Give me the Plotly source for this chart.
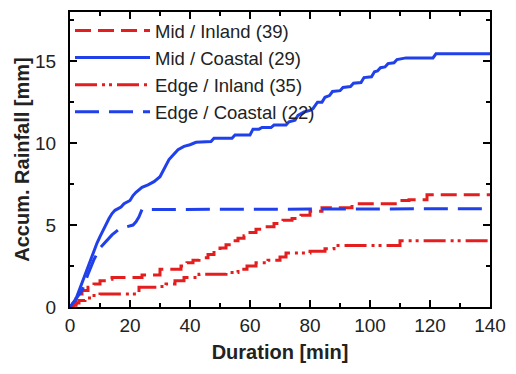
import plotly.graph_objects as go

# Accumulated rainfall curves (duration in minutes, depth in mm)
mid_inland_t = [0, 1, 2, 3, 4, 6, 8, 10, 12, 14, 16, 24, 30, 37, 39, 41, 43, 46, 48, 50, 52, 54,
                56, 58, 60, 62, 64, 68, 71, 74, 77, 80, 84, 94, 109, 113, 119, 140]
mid_inland_v = [0, 0.2, 0.5, 0.8, 1.0, 1.2, 1.4, 1.6, 1.7, 1.8, 1.8, 1.95, 2.3, 2.5, 2.7, 2.85,
                3.0, 3.2, 3.45, 3.6, 3.8, 4.05, 4.2, 4.35, 4.55, 4.75, 4.9, 5.1, 5.3, 5.4, 5.6,
                5.85, 6.05, 6.3, 6.5, 6.55, 6.85, 6.85]

mid_coastal_t = [0, 1, 2, 3, 4, 5, 6, 7, 8, 9, 10, 11, 12, 13, 14, 15, 17, 18, 20, 21, 22, 24,
                 26, 28, 30, 31, 32, 33, 34, 35, 36, 38, 40, 42, 47, 48, 54, 55, 60, 61, 63, 64,
                 67, 68, 72, 73, 75, 76, 78, 80, 81, 82.5, 84, 85, 86.5, 87.5, 90, 91, 93.5,
                 94.5, 97, 98, 100.5, 101.5, 102.5, 103.5, 105, 106, 108, 109, 111, 112, 121,
                 122, 140]
mid_coastal_v = [0, 0.2, 0.5, 1.0, 1.5, 2.0, 2.5, 3.0, 3.5, 3.9, 4.3, 4.7, 5.1, 5.4, 5.7, 5.9,
                 6.1, 6.3, 6.5, 6.8, 7.0, 7.3, 7.45, 7.65, 7.95, 8.3, 8.7, 9.0, 9.2, 9.4, 9.6,
                 9.8, 9.9, 10.05, 10.1, 10.3, 10.3, 10.5, 10.5, 10.85, 10.85, 10.95, 10.95, 11.1,
                 11.1, 11.3, 11.4, 11.7, 11.9, 12.0, 12.1, 12.5, 12.5, 12.8, 12.9, 13.15, 13.2,
                 13.4, 13.45, 13.65, 13.7, 14.0, 14.05, 14.35, 14.4, 14.6, 14.65, 14.85, 14.9,
                 15.1, 15.15, 15.2, 15.2, 15.45, 15.45]

edge_inland_t = [0, 1, 2, 3, 5, 7, 10, 23, 30, 32, 35, 38, 43, 52, 56, 59, 62, 66, 70, 72, 80,
                 85, 88, 110, 140]
edge_inland_v = [0, 0.1, 0.25, 0.4, 0.55, 0.7, 0.8, 1.2, 1.25, 1.4, 1.6, 1.8, 2.0, 2.1, 2.3,
                 2.5, 2.7, 2.85, 3.05, 3.3, 3.4, 3.55, 3.75, 4.05, 4.05]

edge_coastal_t = [0, 2, 4, 6, 8, 10, 12, 14, 16, 18, 21, 22, 23, 24, 140]
edge_coastal_v = [0, 0.5, 1.0, 2.0, 2.9, 3.6, 4.0, 4.4, 4.7, 4.85, 5.0, 5.2, 5.5, 5.95, 6.0]

labels = ["Mid / Inland (39)", "Mid / Coastal (29)", "Edge / Inland (35)", "Edge / Coastal (22)"]

RED = "#e41e1e"
BLUE = "#1f40ea"
FONT = "Liberation Sans, Arial"

# (x, y, name, colour, dash pattern, line shape)
series = [
    (mid_inland_t, mid_inland_v, labels[0], RED, "16px,7px", "hv"),
    (mid_coastal_t, mid_coastal_v, labels[1], BLUE, "solid", "linear"),
    (edge_inland_t, edge_inland_v, labels[2], RED, "22px,5px,3px,4px,3px,5px", "hv"),
    (edge_coastal_t, edge_coastal_v, labels[3], BLUE, "24px,10px", "linear"),
]

fig = go.Figure()
for t, v, name, color, dash, shape in series:
    fig.add_trace(go.Scatter(
        x=t, y=v, name=name, mode="lines",
        line=dict(color=color, width=3, dash=dash, shape=shape),
    ))

axis_common = dict(
    showline=True, linecolor="black", linewidth=2, mirror="allticks",
    ticks="inside", ticklen=7, tickwidth=2, tickcolor="black",
    showgrid=False, zeroline=False,
    tickfont=dict(family=FONT, size=19, color="#222"),
)

fig.update_xaxes(
    range=[0, 140], dtick=20,
    minor=dict(ticks="inside", ticklen=4, tickwidth=2, tickcolor="black", dtick=10),
    title=dict(text="<b>Duration [min]</b>", font=dict(family=FONT, size=20, color="#222"), standoff=10),
    **axis_common,
)
fig.update_yaxes(
    range=[0, 18], dtick=5,
    minor=dict(ticks="inside", ticklen=4, tickwidth=2, tickcolor="black", dtick=2.5),
    ticklabelstandoff=8,
    title=dict(text="<b>Accum. Rainfall [mm]</b>", font=dict(family=FONT, size=20, color="#222"), standoff=0),
    **axis_common,
)

fig.update_layout(
    width=516, height=374,
    margin=dict(l=70, r=19, t=10, b=67),
    paper_bgcolor="white", plot_bgcolor="white",
    showlegend=True,
    legend=dict(
        x=0.0, y=1.0, xanchor="left", yanchor="top",
        bgcolor="rgba(0,0,0,0)", borderwidth=0,
        font=dict(family=FONT, size=18.5, color="#222"),
        itemwidth=75, tracegroupgap=0,
    ),
)

fig.write_html("out.html")
